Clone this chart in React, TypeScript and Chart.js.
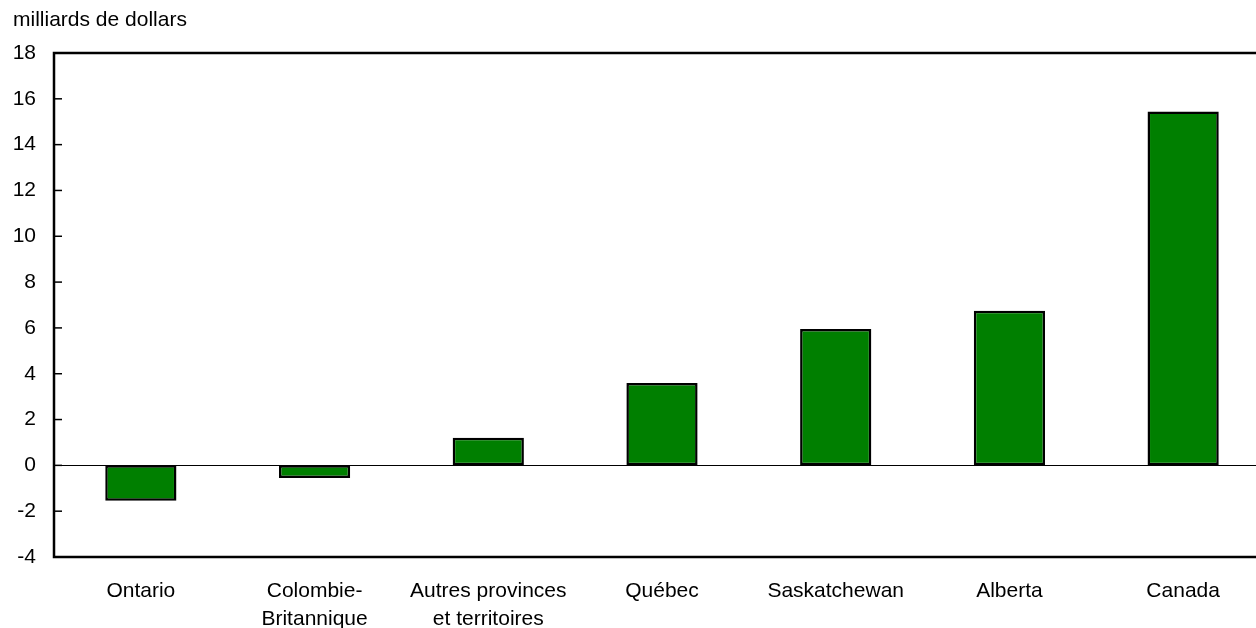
import React, { useEffect, useRef } from "react";
import { Chart, registerables } from "chart.js";

Chart.register(...registerables);

const categories: (string | string[])[] = [
  "Ontario",
  ["Colombie-", "Britannique"],
  ["Autres provinces", "et territoires"],
  "Québec",
  "Saskatchewan",
  "Alberta",
  "Canada",
];
const values: number[] = [-1.55, -0.55, 1.2, 3.6, 5.95, 6.75, 15.45];
const yTicks: number[] = [-4, -2, 0, 2, 4, 6, 8, 10, 12, 14, 16, 18];
const unitLabel = "milliards de dollars";

const FONT = "'Liberation Sans', Arial, Helvetica, sans-serif";
const CANVAS_W = 1270;

const framePlugin = {
  id: "frame",
  afterDraw(chart: any) {
    const { ctx, chartArea } = chart;
    const { left, right, top, bottom } = chartArea;
    const y = chart.scales.y;
    ctx.save();
    ctx.strokeStyle = "#000";
    ctx.lineWidth = 1;
    const y0 = Math.round(y.getPixelForValue(0)) + 0.5;
    ctx.beginPath();
    ctx.moveTo(left, y0);
    ctx.lineTo(right, y0);
    ctx.stroke();
    ctx.lineWidth = 1.5;
    for (const t of yTicks) {
      const py = y.getPixelForValue(t);
      ctx.beginPath();
      ctx.moveTo(left, py);
      ctx.lineTo(left + 8, py);
      ctx.stroke();
    }
    ctx.lineWidth = 2.5;
    ctx.beginPath();
    ctx.moveTo(right, top);
    ctx.lineTo(left, top);
    ctx.lineTo(left, bottom);
    ctx.lineTo(right, bottom);
    ctx.stroke();
    ctx.fillStyle = "#000";
    ctx.font = `21px ${FONT}`;
    ctx.textAlign = "left";
    ctx.textBaseline = "alphabetic";
    ctx.fillText(unitLabel, 13, 26);
    ctx.restore();
  },
};

export default function App() {
  const ref = useRef<HTMLCanvasElement>(null);
  useEffect(() => {
    if (!ref.current) return;
    const chart = new Chart(ref.current, {
      type: "bar",
      data: {
        labels: categories,
        datasets: [
          {
            data: values,
            backgroundColor: "#007f00",
            borderColor: "#000",
            borderWidth: 2.5,
            borderSkipped: false,
            barPercentage: 0.41,
            categoryPercentage: 1,
          },
        ],
      },
      options: {
        animation: false,
        responsive: false,
        maintainAspectRatio: false,
        layout: { padding: { top: 53, right: 0, bottom: 0, left: 0 } },
        plugins: {
          legend: { display: false },
          tooltip: { enabled: false },
          title: { display: false },
        },
        scales: {
          x: {
            grid: { display: false, drawTicks: false },
            border: { display: false },
            ticks: {
              color: "#000",
              font: { family: FONT, size: 21, lineHeight: 1.3 },
              padding: 21,
              maxRotation: 0,
              autoSkip: false,
            },
            afterFit: (s: any) => {
              s.height = 71;
            },
          },
          y: {
            min: -4,
            max: 18,
            afterBuildTicks: (s: any) => {
              s.ticks = yTicks.map((v) => ({ value: v }));
            },
            grid: { display: false, drawTicks: false },
            border: { display: false },
            ticks: {
              color: "#000",
              font: { family: FONT, size: 21 },
              padding: 18,
            },
            afterFit: (s: any) => {
              s.width = 54;
            },
          },
        },
      },
      plugins: [framePlugin],
    });
    return () => chart.destroy();
  }, []);
  return (
    <div style={{ position: "fixed", left: 0, top: 0, width: 1256, height: 628, overflow: "hidden", background: "#fff" }}>
      <canvas ref={ref} width={CANVAS_W} height={628} style={{ width: CANVAS_W, height: 628, display: "block" }} />
    </div>
  );
}
